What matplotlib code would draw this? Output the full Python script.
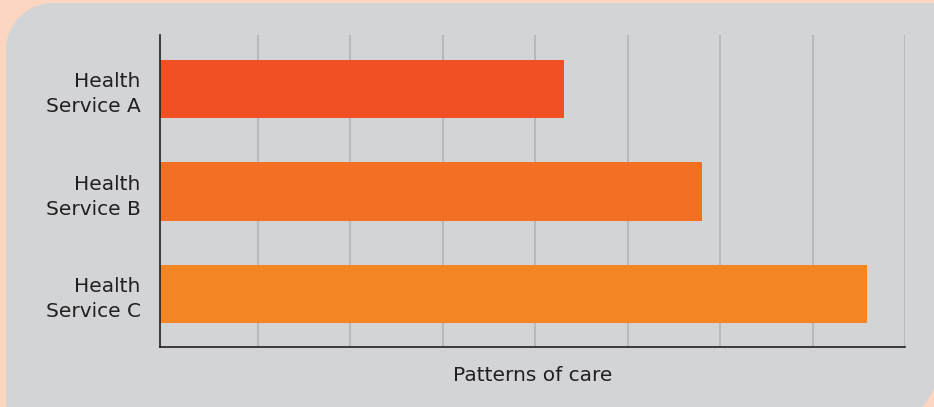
import matplotlib
matplotlib.use("Agg")
import numpy as np
import matplotlib.pyplot as plt
from matplotlib.patches import Polygon

# data
services = ["Health\nService A", "Health\nService B", "Health\nService C"]
values = [4.31, 5.80, 7.59]
bar_colors = ["#f05023", "#f26f23", "#f38522"]
x_label = "Patterns of care"

peach = "#fdd6c2"
panel = "#d3d4d6"
grid_col = "#b1b2b5"
text_col = "#231f20"

plt.rcParams["font.family"] = ["DejaVu Sans"]

fig = plt.figure(figsize=(9.34, 4.07), dpi=100)
fig.patch.set_facecolor(peach)

# gray panel (inches), rounded only top-left and bottom-right
r1, r2 = 0.47, 0.5
t1 = np.linspace(np.pi, np.pi/2, 30)
t2 = np.linspace(0, -np.pi/2, 30)
tl = np.c_[0.06 + r1 + r1*np.cos(t1), 4.04 - r1 + r1*np.sin(t1)]
br = np.c_[8.866 + r2*np.cos(t2), 0.354 + r2*np.sin(t2)]
pts = np.vstack([[[0.06, -0.3]], tl, [[9.366, 4.04]], br, [[8.866, -0.3]]])
fig.add_artist(Polygon(pts, closed=True, transform=fig.dpi_scale_trans,
                       facecolor=panel, edgecolor="none", zorder=-2))

ax = fig.add_axes([160/934, 1-347/407, (905-160)/934, (347-35)/407])
ax.set_facecolor("none")

x0 = -0.06
ypos = list(range(len(services)))
ax.barh(ypos, [v - x0 for v in values], left=x0, height=0.57,
        color=bar_colors, zorder=3)

ax.set_xlim(x0, 8)
ax.set_ylim(2.52, -0.53)
ax.set_xticks(range(1, 9))
ax.set_xticklabels([])
ax.tick_params(axis="x", length=0)
ax.grid(axis="x", color=grid_col, linewidth=1.1, zorder=1)
ax.set_axisbelow(True)

ax.set_yticks(ypos)
ax.set_yticklabels(services, fontsize=14.5, color=text_col, linespacing=1.4)
ax.tick_params(axis="y", length=0, pad=14)

ax.set_xlabel(x_label, fontsize=14.5, color=text_col, labelpad=10)

for s in ["top", "right"]:
    ax.spines[s].set_visible(False)
for s in ["left", "bottom"]:
    ax.spines[s].set_color(text_col)
    ax.spines[s].set_linewidth(1.2)
    ax.spines[s].set_zorder(4)

fig.savefig("out.png", dpi=100, facecolor=peach)
